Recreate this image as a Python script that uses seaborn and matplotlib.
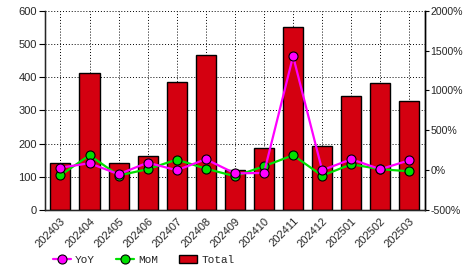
import numpy as np
import pandas as pd
import seaborn as sns
import matplotlib
matplotlib.use("Agg")
import matplotlib.pyplot as plt
from matplotlib.lines import Line2D
from matplotlib.patches import Patch

months = ["202403", "202404", "202405", "202406", "202407", "202408", "202409",
          "202410", "202411", "202412", "202501", "202502", "202503"]
total = [143, 412, 143, 162, 385, 466, 122, 186, 550, 192, 343, 382, 328]
yoy = [33, 89, -49, 96, 1, 139, -38, -33, 1429, 1, 139, 14, 126]
mom = [-62, 189, -65, 14, 134, 21, -74, 51, 189, -67, 76, 14, -12]
left_ticks = [0, 100, 200, 300, 400, 500, 600]
right_ticks = [-500, 0, 500, 1000, 1500, 2000]

df = pd.DataFrame({"month": months, "total": total, "yoy": yoy, "mom": mom})

sns.set_style("white")
plt.rcParams["font.family"] = ["Liberation Sans", "DejaVu Sans"]

fig = plt.figure(figsize=(4.66, 2.72), dpi=100)
ax = fig.add_axes([0.0966, 0.227, 0.815, 0.734])

bar_color = "#D40010"
sns.barplot(data=df, x="month", y="total", color=bar_color, saturation=1,
            edgecolor="black", linewidth=1.0, width=0.69, ax=ax, zorder=2)
ax.set_ylim(0, 600)
ax.set_yticks(left_ticks)
ax.set_xlim(-0.53, len(months) - 0.47)
ax.grid(True, color="black", linestyle=(0, (1, 2)), linewidth=0.7, zorder=0)
ax.set_axisbelow(True)
ax.set_xlabel("")
ax.set_ylabel("")
ax.spines["top"].set_visible(False)
for s in ["left", "bottom", "right"]:
    ax.spines[s].set_color("black")
    ax.spines[s].set_linewidth(1.0)
ax.tick_params(axis="y", length=4, width=0.8, color="black",
               labelsize=8, direction="out", left=True, pad=2)
ax.tick_params(axis="x", length=0, labelsize=8, pad=4)
plt.setp(ax.get_xticklabels(), rotation=45, ha="right", rotation_mode="anchor")

ax2 = ax.twinx()
sns.pointplot(data=df, x="month", y="mom", color="#00E000", marker="o",
              markersize=6.5, markeredgecolor="black", markeredgewidth=0.8,
              linewidth=1.6, ax=ax2)
sns.pointplot(data=df, x="month", y="yoy", color="#FF00FF", marker="o",
              markersize=6.5, markeredgecolor="black", markeredgewidth=0.8,
              linewidth=1.6, ax=ax2)
ax2.set_ylim(-500, 2000)
ax2.set_yticks(right_ticks)
ax2.set_yticklabels([f"{v}%" for v in right_ticks])
ax2.set_xlim(-0.53, len(months) - 0.47)
ax2.set_ylabel("")
ax2.set_xlabel("")
ax2.grid(False)
ax2.spines["top"].set_visible(False)
ax2.spines["right"].set_color("black")
ax2.spines["right"].set_linewidth(1.0)
ax2.tick_params(axis="y", length=3, width=0.8, color="black", labelsize=7.6,
                direction="out", right=True, pad=1)

handles = [
    Line2D([0], [0], color="#FF00FF", marker="o", markersize=6.5,
           markeredgecolor="black", markeredgewidth=0.8, linewidth=1.6),
    Line2D([0], [0], color="#00E000", marker="o", markersize=6.5,
           markeredgecolor="black", markeredgewidth=0.8, linewidth=1.6),
    Patch(facecolor=bar_color, edgecolor="black", linewidth=1.0),
]
fig.legend(handles, ["YoY", "MoM", "Total"], loc="center left",
           bbox_to_anchor=(53 / 466, 1 - 260 / 272), ncol=3, frameon=False,
           prop={"family": "Liberation Mono", "size": 8},
           borderaxespad=0, borderpad=0,
           handlelength=1.6, handleheight=0.8, handletextpad=0.4,
           columnspacing=1.9)

fig.savefig("out.png", dpi=100)
